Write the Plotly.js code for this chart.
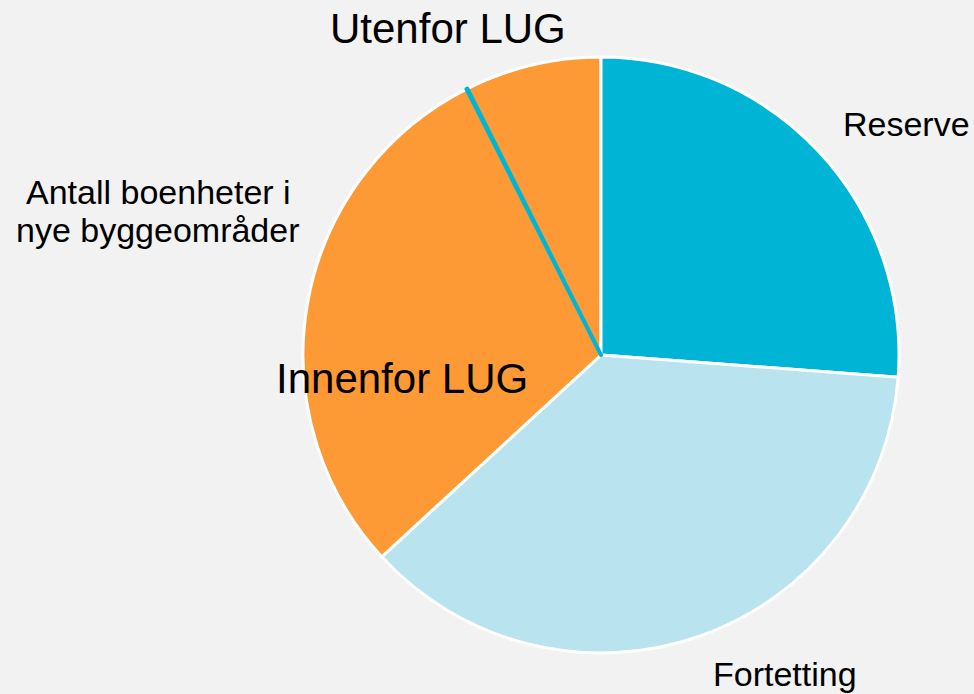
<!DOCTYPE html>
<html>
<head>
<meta charset="utf-8">
<script src="https://cdn.plot.ly/plotly-3.0.1.min.js"></script>
<style>html,body{margin:0;padding:0;background:#f2f2f2;}#chart{width:974px;height:694px;}</style>
</head>
<body>
<div id="chart"></div>
<script>
// Data (clockwise from 12 o'clock starting at "Reserve")
const categories = ["Reserve", "Fortetting", "Innenfor LUG", "Utenfor LUG"];
const values = [26.2, 37.0, 29.4, 7.4];
const colors = ["#00b4d6", "#b9e3ef", "#fe9a35", "#fe9a35"];
const separatorValue = 0.06; // thin teal divider between the two orange slices
const separatorColor = "#00b4d6";

// Build trace: start with "Utenfor LUG", then the rest, divider drawn last (on top)
const order = [3, 0, 1, 2];
const trLabels = order.map(i => categories[i]).concat(["sep"]);
const trValues = order.map(i => values[i]).concat([separatorValue]);
const trColors = order.map(i => colors[i]).concat([separatorColor]);
const lineColors = order.map(() => "#ffffff").concat([separatorColor]);
const lineWidths = order.map(() => 3).concat([4]);
const total = trValues.reduce((a, b) => a + b, 0);
const rotation = -360 * values[3] / total;

const W = 974, H = 694;
const cx = 601, cy = 355, r = 298;

const trace = {
  type: "pie",
  labels: trLabels,
  values: trValues,
  sort: false,
  direction: "clockwise",
  rotation: rotation,
  textinfo: "none",
  hoverinfo: "skip",
  showlegend: false,
  marker: { colors: trColors, line: { color: lineColors, width: lineWidths } },
  domain: { x: [(cx - r) / W, (cx + r) / W], y: [1 - (cy + r) / H, 1 - (cy - r) / H] }
};

const labelFont = { family: "Liberation Sans, Arial, sans-serif", color: "#000000" };
function ann(text, px, py, size) {
  return { text: text, x: px / W, y: 1 - py / H, xref: "paper", yref: "paper",
           xanchor: "center", yanchor: "middle", showarrow: false,
           font: Object.assign({ size: size }, labelFont) };
}
const annotations = [
  ann("Utenfor LUG", 447.5, 28, 42),
  ann("Innenfor LUG", 401.5, 378, 42),
  ann("Reserve", 906, 124, 34),
  ann("Fortetting", 785, 674, 34),
  ann("Antall boenheter i", 158, 192, 34),
  ann("nye byggeområder", 158, 230, 34)
];

const layout = {
  width: W, height: H,
  margin: { l: 0, r: 0, t: 0, b: 0 },
  paper_bgcolor: "#f2f2f2",
  plot_bgcolor: "#f2f2f2",
  showlegend: false,
  annotations: annotations
};

Plotly.newPlot("chart", [trace], layout, { displayModeBar: false, staticPlot: true });
</script>
</body>
</html>
